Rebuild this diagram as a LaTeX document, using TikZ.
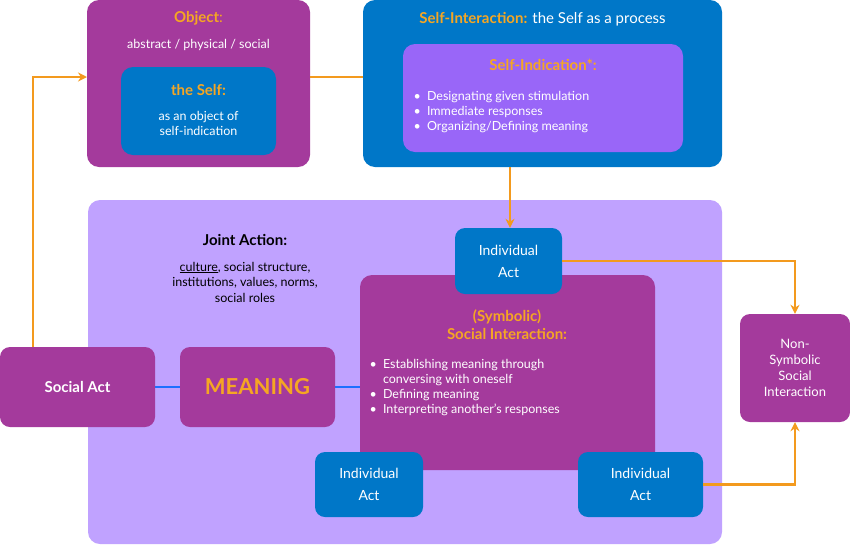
\documentclass[tikz,border=0pt]{standalone}
\usepackage{fontspec}
\setmainfont{Lato}
\usetikzlibrary{arrows.meta}
\definecolor{purp}{HTML}{A43A9C}
\definecolor{blu}{HTML}{0077C8}
\definecolor{vio}{HTML}{9966F8}
\definecolor{lav}{HTML}{C0A2FF}
\definecolor{org}{HTML}{F39A1E}
\definecolor{lnblue}{HTML}{1E6FFF}
\definecolor{ttl}{HTML}{F5A623}
\tikzset{
 bx/.style={rounded corners=10pt,inner sep=0pt},
 conn/.style={draw=org,line width=2.2pt},
 arr/.style={conn,-{Stealth[length=9pt,width=9pt]}},
 bl/.style={draw=lnblue,line width=2pt},
 wt/.style={text=white,font=\fontsize{12.5}{15}\selectfont,align=center},
 tt/.style={text=ttl,font=\fontsize{15}{18}\selectfont\bfseries,align=center},
}
\begin{document}
\begin{tikzpicture}[x=1pt,y=-1pt]
\useasboundingbox (0,0) rectangle (850,544);
% big lavender
\fill[lav,rounded corners=12pt] (88,200) rectangle (722,544);
% object
\fill[purp,rounded corners=12pt] (87,0) rectangle (310,167);
\node[tt] at (198.5,18) {Object\textmd{:}};
\node[wt] at (198.5,45) {abstract / physical / social};
\fill[blu,rounded corners=12pt] (121,67) rectangle (276,155);
\node[tt] at (198.5,90) {the Self:};
\node[wt] at (198.5,123) {as an object of\\self-indication};
\coordinate (objL) at (87,77); \coordinate (objR) at (310,77);
% self interaction
\fill[blu,rounded corners=12pt] (363,0) rectangle (722,167);
\node[font=\fontsize{15}{18}\selectfont,text=white] at (542.5,19) {\textcolor{ttl}{\bfseries Self-Interaction:} the Self as a process};
\fill[vio,rounded corners=12pt] (403,44) rectangle (683,152);
\node[tt] at (543,65) {Self-Indication*:};
\node[wt,align=left,anchor=west] at (410,112) {\textbullet\enspace Designating given stimulation\\\textbullet\enspace Immediate responses\\\textbullet\enspace Organizing/Defining meaning};
\coordinate (siL) at (363,77); \coordinate (siB) at (510,167);
% joint action text
\node[font=\fontsize{15}{18}\selectfont\bfseries] at (245,240) {Joint Action:};
\node[font=\fontsize{12.5}{15.5}\selectfont,align=center] at (245,282) {\underline{culture}, social structure,\\institutions, values, norms,\\social roles};
% symbolic
\fill[purp,rounded corners=12pt] (360,275) rectangle (655,470);
\node[tt] at (507,325) {(Symbolic)\\Social Interaction:};
\node[wt,align=left,anchor=north west] at (366,356) {\textbullet\enspace Establishing meaning through\\\phantom{\textbullet\enspace}conversing with oneself\\\textbullet\enspace Defining meaning\\\textbullet\enspace Interpreting another's responses};
% individual acts
\node[bx,fill=blu,wt,minimum width=107pt,minimum height=66pt,font=\fontsize{14}{22}\selectfont] (ia1) at (508.5,261) {Individual\\Act};
\node[bx,fill=blu,wt,minimum width=108pt,minimum height=65pt,font=\fontsize{14}{22}\selectfont] (ia2) at (369,484.5) {Individual\\Act};
\node[bx,fill=blu,wt,minimum width=125pt,minimum height=65pt,font=\fontsize{14}{22}\selectfont] (ia3) at (640.5,484.5) {Individual\\Act};
% social act, meaning
\node[bx,fill=purp,wt,minimum width=155pt,minimum height=80pt,font=\fontsize{15}{18}\selectfont\bfseries] (sa) at (77.5,387) {Social Act};
\node[bx,fill=purp,minimum width=155pt,minimum height=80pt,text=ttl,font=\fontsize{22}{26}\selectfont\bfseries] (mn) at (257.5,387) {MEANING};
\node[bx,fill=purp,wt,minimum width=110pt,minimum height=108pt,font=\fontsize{13}{16}\selectfont] (ns) at (795,368) {Non-\\Symbolic\\Social\\Interaction};
\coordinate (symL) at (360,387);
% connectors
\draw[bl] (sa.east) -- (mn.west);
\draw[bl] (mn.east) -- (symL);
\draw[arr] (sa.north -| 33,0) |- (objL);
\draw[conn] (objR) -- (siL);
\draw[arr] (siB) -- (ia1.north -| siB);
\draw[arr] (ia1.east) -| (ns.north);
\draw[arr] (ia3.east) -| (ns.south);
\end{tikzpicture}
\end{document}
